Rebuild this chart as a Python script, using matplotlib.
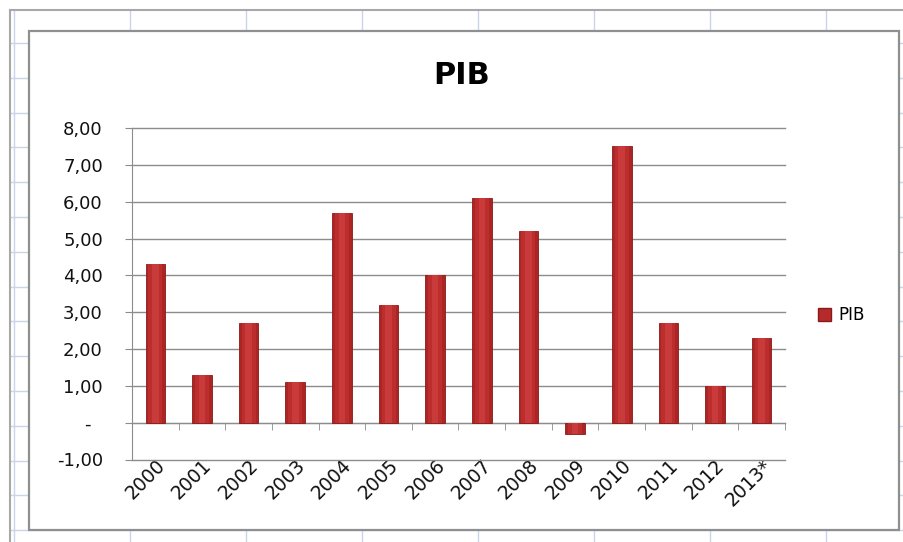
import matplotlib.pyplot as plt
import numpy as np
from matplotlib.patches import Rectangle, Patch

years = ["2000", "2001", "2002", "2003", "2004", "2005", "2006",
         "2007", "2008", "2009", "2010", "2011", "2012", "2013*"]
pib = [4.3, 1.3, 2.7, 1.1, 5.7, 3.2, 4.0, 6.1, 5.2, -0.3, 7.5, 2.7, 1.0, 2.3]
y_ticks = [-1, 0, 1, 2, 3, 4, 5, 6, 7, 8]

W, H = 904, 542
fig = plt.figure(figsize=(W / 100, H / 100), dpi=100)

# spreadsheet behind the chart
bg = fig.add_axes([0, 0, 1, 1], zorder=0)
bg.set_xlim(0, W)
bg.set_ylim(H, 0)
bg.axis("off")
cell_blue = "#c8d5ea"
bg.vlines([14] + list(np.arange(130, W, 116)), 10, H, color=cell_blue, lw=1, zorder=1)
bg.hlines(np.arange(43, H, 34.8), 10, W, color=cell_blue, lw=1, zorder=1)
bg.plot([10, 10], [10, H], color="#a8a8a8", lw=1.5, zorder=2)
bg.plot([10, W], [10, 10], color="#a8a8a8", lw=1.5, zorder=2)
bg.add_patch(Rectangle((29, 31), 870, 499, facecolor="white",
                       edgecolor="#8f8f8f", lw=1.6, zorder=5))

# the chart itself
ax = fig.add_axes([132 / W, 1 - 459.5 / H, 653 / W, (459.5 - 128) / H], zorder=1)
ax.patch.set_alpha(0)
x = np.arange(len(years))
ax.bar(x, pib, width=0.42, color="#ac2424", edgecolor="#8a1a1a", lw=0.6, zorder=3)
ax.bar(x, pib, width=0.30, color="#bc2e2e", lw=0, zorder=4)
ax.bar(x, pib, width=0.14, color="#c93a3a", lw=0, zorder=5)

ax.set_xlim(-0.5, len(years) - 0.5)
ax.set_ylim(-1, 8)

grey = "#8c8c8c"
ax.set_yticks(y_ticks)
ax.set_yticklabels(["-  " if v == 0 else f"{v:.2f}".replace(".", ",") for v in y_ticks])
ax.yaxis.grid(True, color=grey, lw=1)
for gl in ax.get_ygridlines():
    gl.set_clip_on(False)
ax.set_axisbelow(True)
ax.tick_params(axis="y", length=5, color=grey, pad=16, labelsize=13, labelcolor="#111111")

for s in ["top", "right"]:
    ax.spines[s].set_visible(False)
ax.spines["left"].set_color(grey)
ax.spines["bottom"].set_color(grey)
ax.spines["bottom"].set_position(("data", 0))

ax.set_xticks(x)
ax.set_xticks(np.arange(-0.5, len(years), 1), minor=True)
ax.tick_params(axis="x", which="minor", length=5, color=grey)
ax.tick_params(axis="x", which="major", length=0, pad=24, labelsize=13.5, labelcolor="#111111")
ax.set_xticklabels(years, rotation=45, ha="right", rotation_mode="anchor")

fig.text(462 / W, 1 - 75 / H, "PIB", fontsize=22, weight="bold", ha="center", va="center")

fig.legend(handles=[Patch(facecolor="#b52a2a", edgecolor="#8a1a1a")], labels=["PIB"],
           loc="center left", bbox_to_anchor=(818 / W, 1 - 315 / H), frameon=False,
           fontsize=12, handlelength=0.8, handleheight=0.8, handletextpad=0.4,
           borderpad=0, borderaxespad=0)

fig.savefig("out.png", dpi=100)
